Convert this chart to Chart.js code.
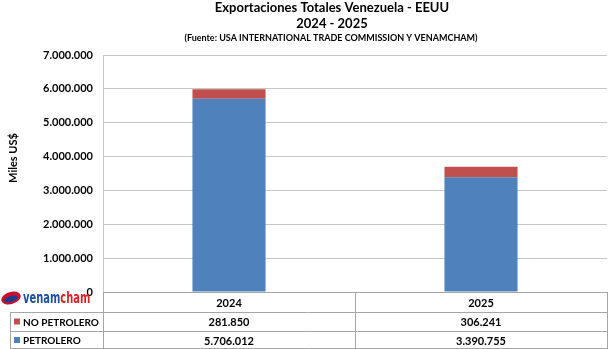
<!DOCTYPE html>
<html>
<head>
<meta charset="utf-8">
<script src="https://cdn.jsdelivr.net/npm/chart.js@4"></script>
<style>
  html, body { margin: 0; padding: 0; background: #fff; }
  #wrap { width: 610px; height: 349px; }
</style>
</head>
<body>
<div id="wrap"><canvas id="chart"></canvas></div>
<script>
// data
const years = ['2024', '2025'];
const noPetrolero = [281850, 306241];
const petrolero = [5706012, 3390755];
const yTicks = [0, 1000000, 2000000, 3000000, 4000000, 5000000, 6000000, 7000000];

const blue = '#4F81BD';
const red = '#C0504D';
const gridColor = '#C6C6C6';
const textColor = '#000';
const fontFam = 'Lato, "Open Sans", sans-serif';

const fmt = v => v.toLocaleString('de-DE');

// titles, y title, logo and the data table under the plot
const extras = {
  id: 'extras',
  afterDraw(chart) {
    const ctx = chart.ctx;
    const area = chart.chartArea;
    const xs = chart.scales.x;
    ctx.save();
    ctx.fillStyle = textColor;
    ctx.textAlign = 'center';
    ctx.textBaseline = 'middle';
    ctx.font = 'bold 13px ' + fontFam;
    ctx.fillText('Exportaciones Totales Venezuela - EEUU', 332, 8);
    ctx.fillText('2024 - 2025', 332, 24);
    ctx.font = 'bold 9px ' + fontFam;
    ctx.fillText('(Fuente: USA INTERNATIONAL TRADE COMMISSION Y VENAMCHAM)', 331, 38);

    // y axis title
    ctx.save();
    ctx.translate(13, 158);
    ctx.rotate(-Math.PI / 2);
    ctx.font = 'bold 11px ' + fontFam;
    ctx.fillText('Miles US$', 0, 0);
    ctx.restore();

    // table
    const top = area.bottom;
    const rowH = [20, 19, 18];
    const leftX = 10;
    const right = area.right;
    const colEdges = [area.left];
    for (let i = 0; i < years.length; i++) {
      const c = xs.getPixelForValue(i);
      const next = i < years.length - 1 ? (c + xs.getPixelForValue(i + 1)) / 2 : right;
      colEdges.push(next);
    }
    ctx.strokeStyle = '#A6A6A6';
    ctx.lineWidth = 1;
    const y1 = top, y2 = top + rowH[0], y3 = y2 + rowH[1], y4 = y3 + rowH[2];
    ctx.beginPath();
    ctx.moveTo(area.left, y1 + 0.5); ctx.lineTo(right, y1 + 0.5);
    ctx.moveTo(leftX, y2 + 0.5); ctx.lineTo(right, y2 + 0.5);
    ctx.moveTo(leftX, y3 + 0.5); ctx.lineTo(right, y3 + 0.5);
    ctx.moveTo(leftX, y4 - 0.5); ctx.lineTo(right, y4 - 0.5);
    ctx.moveTo(leftX + 0.5, y2); ctx.lineTo(leftX + 0.5, y4);
    colEdges.forEach(x => {
      const px = Math.round(x) + 0.5;
      ctx.moveTo(px, y1); ctx.lineTo(px, y4);
    });
    ctx.stroke();

    ctx.font = 'bold 11px ' + fontFam;
    ctx.fillStyle = textColor;
    years.forEach((yr, i) => {
      const cx = (colEdges[i] + colEdges[i + 1]) / 2;
      ctx.fillText(yr, cx, (y1 + y2) / 2 + 1);
      ctx.fillText(fmt(noPetrolero[i]), cx, (y2 + y3) / 2 + 1);
      ctx.fillText(fmt(petrolero[i]), cx, (y3 + y4) / 2 + 1);
    });
    ctx.textAlign = 'left';
    ctx.fillStyle = red;
    ctx.fillRect(14, (y2 + y3) / 2 - 3, 6, 6);
    ctx.fillStyle = blue;
    ctx.fillRect(14, (y3 + y4) / 2 - 3, 6, 6);
    ctx.fillStyle = textColor;
    ctx.font = 'bold 10px ' + fontFam;
    ctx.fillText('NO PETROLERO', 23, (y2 + y3) / 2 + 1);
    ctx.fillText('PETROLERO', 23, (y3 + y4) / 2 + 1);

    // logo
    ctx.beginPath();
    ctx.ellipse(11, 298, 10, 6, -0.3, 0, Math.PI * 2);
    ctx.fillStyle = '#C8102E';
    ctx.fill();
    ctx.beginPath();
    ctx.ellipse(11, 299, 7, 3, -0.3, 0, Math.PI * 2);
    ctx.fillStyle = '#1F3C8C';
    ctx.fill();
    ctx.save();
    ctx.translate(23, 303);
    ctx.scale(0.62, 1);
    ctx.font = 'bold 16px "DejaVu Sans", sans-serif';
    ctx.textBaseline = 'alphabetic';
    ctx.fillStyle = '#1F4E9C';
    ctx.fillText('venam', 0, 0);
    const w = ctx.measureText('venam').width;
    ctx.fillStyle = '#D2232A';
    ctx.fillText('cham', w, 0);
    ctx.restore();
    ctx.restore();
  }
};

new Chart(document.getElementById('chart'), {
  type: 'bar',
  data: {
    labels: years,
    datasets: [
      { label: 'PETROLERO', data: petrolero, backgroundColor: blue, stack: 's' },
      { label: 'NO PETROLERO', data: noPetrolero, backgroundColor: red, stack: 's' }
    ]
  },
  options: {
    responsive: true,
    maintainAspectRatio: false,
    animation: false,
    layout: { padding: { top: 55, bottom: 57, left: 0, right: 3 } },
    plugins: {
      legend: { display: false },
      tooltip: { enabled: false }
    },
    datasets: { bar: { categoryPercentage: 1, barPercentage: 0.29 } },
    scales: {
      x: {
        stacked: true,
        display: false
      },
      y: {
        stacked: true,
        min: 0,
        max: 7000000,
        afterBuildTicks(scale) { scale.ticks = yTicks.map(v => ({ value: v })); },
        afterFit(scale) { scale.width = 103; },
        grid: { color: gridColor, drawTicks: false },
        border: { color: gridColor },
        ticks: {
          color: textColor,
          padding: 10,
          font: { family: fontFam, weight: 'bold', size: 11 },
          callback: v => fmt(v)
        }
      }
    }
  },
  plugins: [extras]
});
</script>
</body>
</html>
